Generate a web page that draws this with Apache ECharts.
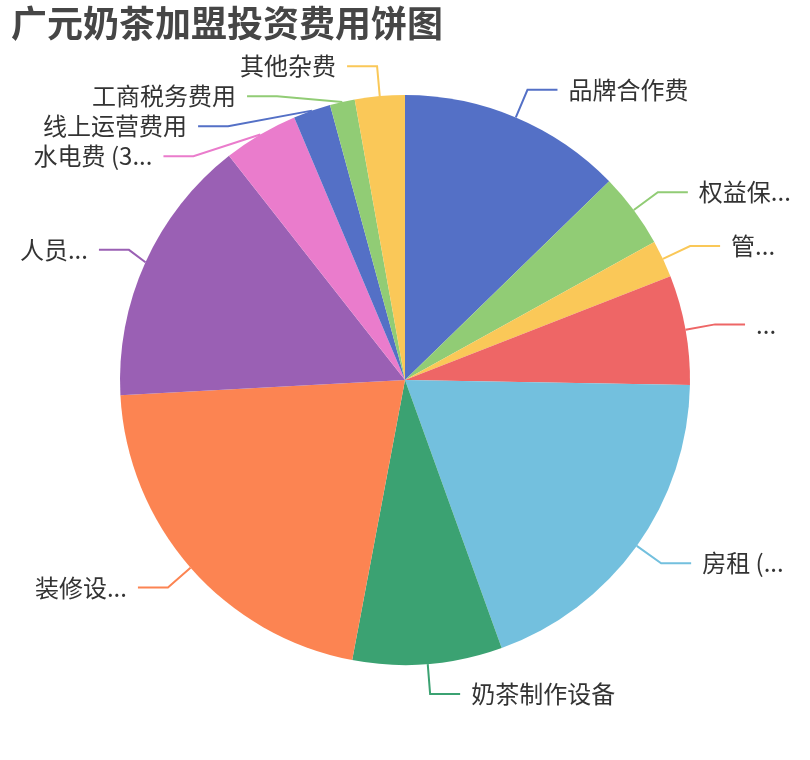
<!DOCTYPE html>
<html>
<head>
<meta charset="utf-8">
<script src="https://cdn.jsdelivr.net/npm/echarts@6/dist/echarts.min.js"></script>
<style>
  html, body { margin: 0; padding: 0; background: #fff; }
  #chart { width: 810px; height: 760px; }
</style>
</head>
<body>
<div id="chart"></div>
<script>
// 费用项目（万元）
const names = [
  '品牌合作费', '权益保证金', '管理费', '首批原料物料费', '房租 (3年)',
  '奶茶制作设备', '装修设计费', '人员工资 (3年)', '水电费 (3年合计)',
  '线上运营费用', '工商税务费用', '其他杂费'
];
const values = [4.5, 1.5, 0.75, 2.2, 6.8, 3, 7.5, 5.4, 1.5, 0.75, 0.5, 1];

const palette = ['#5470c6', '#91cc75', '#fac858', '#ee6666', '#73c0de',
  '#3ba272', '#fc8452', '#9a60b4', '#ea7ccc'];

const chart = echarts.init(document.getElementById('chart'));

chart.setOption({
  color: palette,
  textStyle: { fontFamily: 'Noto Sans CJK SC' },
  title: {
    text: '广元奶茶加盟投资费用饼图',
    left: 6,
    top: 0,
    textStyle: { fontSize: 36, fontWeight: 'bold', color: '#464646', fontFamily: 'Noto Sans CJK SC' }
  },
  series: [
    {
      type: 'pie',
      radius: '75%',
      center: ['50%', '50%'],
      data: names.map((n, i) => ({ name: n, value: values[i] })),
      label: {
        fontSize: 24,
        lineHeight: 28,
        color: '#333',
        fontFamily: 'Noto Sans CJK SC',
        distanceToLabelLine: 11
      },
      labelLine: { length: 30, length2: 30, lineStyle: { width: 2 } }
    }
  ]
});
</script>
</body>
</html>
